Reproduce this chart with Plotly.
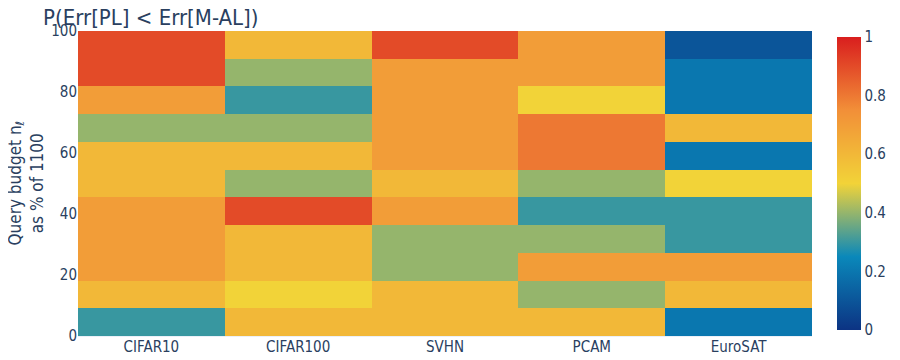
import plotly.graph_objects as go

# datasets and query budgets (budget 50..1050 out of 1100, in %)
datasets = ['CIFAR10', 'CIFAR100', 'SVHN', 'PCAM', 'EuroSAT']
budgets = [50, 150, 250, 350, 450, 550, 650, 750, 850, 950, 1050]
budget_pct = [b / 1100 * 100 for b in budgets]

# P(Err[PL] < Err[M-AL]), one list per budget row (bottom -> top)
row_050 = [0.3, 0.6, 0.6, 0.6, 0.2]
row_150 = [0.6, 0.5, 0.6, 0.4, 0.6]
row_250 = [0.7, 0.6, 0.4, 0.7, 0.7]
row_350 = [0.7, 0.6, 0.4, 0.4, 0.3]
row_450 = [0.7, 0.9, 0.7, 0.3, 0.3]
row_550 = [0.6, 0.4, 0.6, 0.4, 0.5]
row_650 = [0.6, 0.6, 0.7, 0.8, 0.2]
row_750 = [0.4, 0.4, 0.7, 0.8, 0.6]
row_850 = [0.7, 0.3, 0.7, 0.5, 0.2]
row_950 = [0.9, 0.4, 0.7, 0.7, 0.2]
row_1050 = [0.9, 0.6, 0.9, 0.7, 0.1]

z = [row_050, row_150, row_250, row_350, row_450, row_550,
     row_650, row_750, row_850, row_950, row_1050]

font_family = 'DejaVu Sans Condensed, DejaVu Sans, sans-serif'
left_margin = 70
plot_width = 900 - left_margin - 96

fig = go.Figure(go.Heatmap(
    x=datasets,
    y=budget_pct,
    z=z,
    zmin=0,
    zmax=1,
    colorscale='Portland',
    colorbar=dict(thickness=24, len=0.96, x=1.02, xpad=10, ypad=0,
                  tickvals=[0, 0.2, 0.4, 0.6, 0.8, 1], ticktext=['0', '0.2', '0.4', '0.6', '0.8', '1'],
                  outlinewidth=0, tickfont=dict(size=15)),
))

# y title as rotated annotation so it can sit right at the left edge
fig.add_annotation(
    text='Query budget n<sub>ℓ</sub><br>as % of 1100',
    textangle=-90,
    xref='paper', yref='paper',
    x=-(left_margin + 6) / plot_width, xanchor='left',
    y=0.5, yanchor='middle',
    showarrow=False,
    font=dict(size=17),
)

fig.update_layout(
    template='plotly_white',
    width=900,
    height=360,
    margin=dict(l=left_margin, r=96, t=23, b=32, autoexpand=False),
    font=dict(family=font_family, color='#2a3f5f', size=15),
    title=dict(text='P(Err[PL] < Err[M-AL])', x=0.039, xanchor='left', y=0.975, yanchor='middle',
               font=dict(size=22)),
    xaxis=dict(showgrid=False, ticks='', automargin=False),
    yaxis=dict(range=[0, 100], tickvals=[0, 20, 40, 60, 80, 100], showgrid=False, ticks='',
               automargin=False),
)

fig.write_html('out.html')
